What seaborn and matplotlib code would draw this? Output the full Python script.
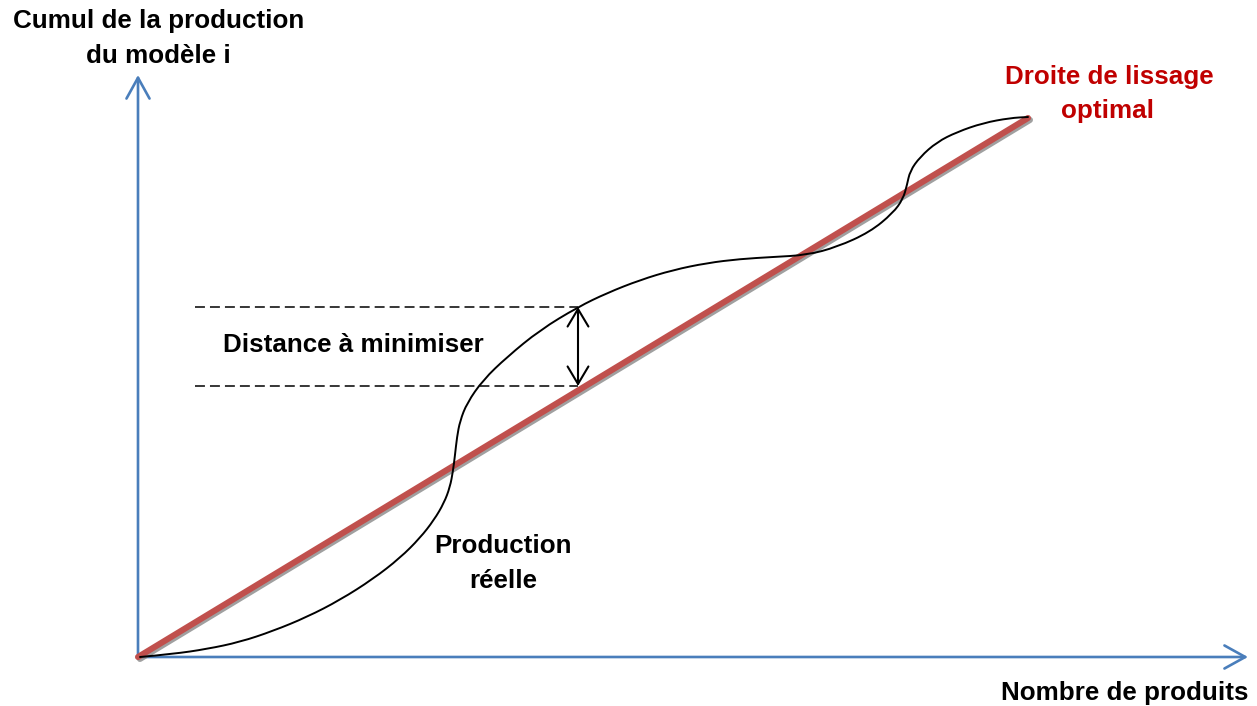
import matplotlib
matplotlib.use("Agg")
import matplotlib.pyplot as plt
import matplotlib.patheffects as pe
from matplotlib.path import Path
from matplotlib.patches import PathPatch
import seaborn as sns

# chart units: origin at the axes corner, x to the right, y upward
axis_x_end = 1110
axis_y_end = 582

# optimal smoothing line (droite de lissage)
line_x = [0, 890]
line_y = [0, 539]

prod_x = [2, 35, 69, 102, 135, 169, 202, 235, 262, 282, 296, 306, 312, 315,
          317, 319, 322, 329, 345, 369, 402, 440, 469, 502, 535, 569, 602,
          635, 669, 699, 732, 755, 765, 769, 772, 782, 799, 819, 845, 872, 890]
prod_y = [0, 3, 8, 15, 26, 40, 57, 78, 99, 119, 137, 154, 170, 186,
          202, 220, 236, 254, 277, 300, 327, 350, 364, 377, 387, 394, 398,
          400, 402, 410, 425, 444, 458, 472, 486, 500, 515, 525, 534, 539, 540]

# distance marker
gap_x = 440
gap_top = 350
gap_bottom = 271
dash_start = 57

AXIS_BLUE = "#4a7ebb"
LINE_RED = "#c0504d"
TEXT_RED = "#c00000"

sns.set_style("white")
plt.rcParams["font.family"] = ["Liberation Sans", "DejaVu Sans"]
plt.rcParams["text.color"] = "black"

fig = plt.figure(figsize=(12.57, 7.06), dpi=100)
ax = fig.add_axes([0, 0, 1, 1])
ax.set_xlim(-138, 1119)
ax.set_ylim(-49, 657)
ax.axis("off")

# axes with open arrow heads
axis_arrow = dict(arrowstyle="->, head_length=15, head_width=8.3",
                  mutation_scale=1, color=AXIS_BLUE, lw=1.9,
                  shrinkA=0, shrinkB=0)
ax.annotate("", xy=(axis_x_end, 0), xytext=(0, 0), arrowprops=axis_arrow)
ax.annotate("", xy=(0, axis_y_end), xytext=(0, 0), arrowprops=axis_arrow)

# red line with grey drop shadow
sns.lineplot(x=line_x, y=line_y, ax=ax, color=LINE_RED, lw=4.4,
             estimator=None, sort=False, zorder=3,
             path_effects=[pe.SimpleLineShadow(offset=(1.4, -1.4), shadow_color="#888888", alpha=0.8),
                           pe.Normal()])

# real production curve, drawn as a smooth path through the read points
pts = list(zip(prod_x, prod_y))
verts = [pts[0]]
codes = [Path.MOVETO]
for i in range(1, len(pts) - 1):
    mid = ((pts[i][0] + pts[i + 1][0]) / 2, (pts[i][1] + pts[i + 1][1]) / 2)
    verts += [pts[i], mid]
    codes += [Path.CURVE3, Path.CURVE3]
verts.append(pts[-1])
codes.append(Path.LINETO)
ax.add_patch(PathPatch(Path(verts, codes), facecolor="none", edgecolor="black",
                       lw=1.4, zorder=4, capstyle="round", joinstyle="round"))

# dashed guides + double arrow
for yy in (gap_top, gap_bottom):
    ax.plot([dash_start, gap_x], [yy, yy], color="black", lw=1.1,
            linestyle=(0, (6.5, 3.3)), zorder=2)
ax.annotate("", xy=(gap_x, gap_bottom), xytext=(gap_x, gap_top),
            arrowprops=dict(arrowstyle="<->, head_length=12.6, head_width=7.5",
                            mutation_scale=1, color="black", lw=1.5,
                            shrinkA=0, shrinkB=0), zorder=5)

txt = dict(fontsize=18.7, fontweight="bold", ha="center", va="baseline", color="black")
ax.text(21, 629, "Cumul de la production", **txt)
ax.text(20, 594, "du modèle i", **txt)
ax.text(971, 573, "Droite de lissage", **{**txt, "color": TEXT_RED})
ax.text(970, 539, "optimal", **{**txt, "color": TEXT_RED})
ax.text(215, 305, "Distance à minimiser", **txt)
ax.text(365, 104, "Production", **txt)
ax.text(365, 69, "réelle", **txt)
ax.text(987, -43, "Nombre de produits", **txt)

fig.savefig("out.png", dpi=100)
